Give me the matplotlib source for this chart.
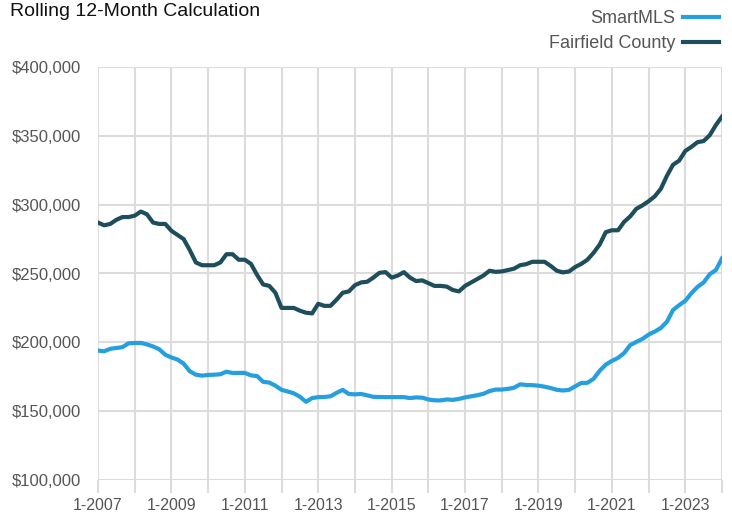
import numpy as np
import matplotlib
matplotlib.use('Agg')
import matplotlib.pyplot as plt
from matplotlib.ticker import FuncFormatter, MultipleLocator

plt.rcParams['font.family'] = ['Liberation Sans', 'DejaVu Sans']

# bimonthly points, Jan 2007 .. Jan 2024
start_year = 2007
n_points = 103
years = start_year + np.arange(n_points) / 6.0
label_years = [2007, 2009, 2011, 2013, 2015, 2017, 2019, 2021, 2023]

smartmls = [194, 193.5, 195.3, 195.9, 196.5, 199.3,
            199.5, 199.6, 198.5, 197, 195, 191,
            189, 187.5, 184.5, 179, 176.5, 175.8,
            176.3, 176.5, 176.8, 178.7, 177.7, 177.8,
            177.8, 176, 175.5, 171.3, 170.8, 168.5,
            165.5, 164.3, 163, 160.5, 156.8, 159.5,
            160.2, 160.3, 160.8, 163.3, 165.5, 162.5,
            162.2, 162.5, 161.5, 160.4, 160.3, 160.2,
            160.2, 160.2, 160.2, 159.5, 160, 159.8,
            158.5, 157.9, 157.8, 158.5, 158.2, 158.9,
            160, 160.8, 161.6, 162.6, 164.6, 165.7,
            165.7, 166.2, 167, 169.5, 169, 168.9,
            168.5, 167.8, 166.8, 165.5, 165, 165.5,
            168, 170.5, 170.6, 173.5, 179.3, 183.8,
            186.5, 188.7, 192.2, 198, 200.3, 202.5,
            205.6, 207.8, 210.4, 215, 223.5, 227,
            230.2, 235.7, 240.3, 243.5, 249.5, 252.5,
            261]

fairfield = [287, 285, 286, 289, 291, 291,
             292, 295, 293, 287, 286, 286,
             281, 278, 275, 267, 258, 256,
             256, 256, 258, 264, 264, 260,
             260, 257, 249, 242, 241, 236,
             225, 225, 225, 223, 221.5, 221,
             228, 226.5, 226.5, 231, 236, 237,
             241.5, 243.5, 244, 247, 250.5, 251,
             247, 248.5, 251, 247, 244.5, 245,
             243, 241, 241, 240.5, 238, 237,
             241, 243.5, 246, 248.5, 252, 251.2,
             251.5, 252.5, 253.5, 256, 256.8, 258.5,
             258.5, 258.5, 255.5, 252, 250.8, 251.5,
             254.7, 257, 260, 265, 271, 280,
             281.4, 281.4, 287.5, 291.5, 297, 299.5,
             302.5, 306, 311.5, 321, 329, 332,
             339, 342, 345.4, 346.2, 350.5, 357.8,
             364]

smartmls = np.array(smartmls) * 1000
fairfield = np.array(fairfield) * 1000

fig = plt.figure(figsize=(7.32, 5.15), dpi=100)
ax = fig.add_axes([98 / 732, 1 - 480 / 515, 624 / 732, 413 / 515])

ax.plot(years, smartmls, color='#259fdd', lw=3, label='SmartMLS', solid_joinstyle='round')
ax.plot(years, fairfield, color='#1e4d5c', lw=3, label='Fairfield County', solid_joinstyle='round')

ax.set_xlim(2007, 2024)
ax.set_ylim(100000, 400000)
ax.set_xticks(label_years)
ax.set_xticklabels(['1-%d' % y for y in label_years])
ax.xaxis.set_minor_locator(MultipleLocator(1))
ax.yaxis.set_major_locator(MultipleLocator(50000))
ax.yaxis.set_major_formatter(FuncFormatter(lambda v, p: '${:,.0f}'.format(v)))

ax.grid(True, which='both', color='#dcdcdc', lw=1.5)
ax.set_axisbelow(True)
for s in ax.spines.values():
    s.set_visible(False)
ax.tick_params(axis='x', which='both', length=9, color='#dcdcdc', width=1.5,
               labelsize=11.5, labelcolor='#555555', pad=4)
ax.tick_params(axis='y', length=0, labelsize=12, labelcolor='#555555', pad=12)

fig.text(10 / 732, 1 - 12 / 515, 'Rolling 12-Month Calculation', fontsize=14,
         color='#111111', va='center', ha='left')

leg = fig.legend(loc='upper right', bbox_to_anchor=(735 / 732, 1 + 6 / 515),
                 frameon=False, markerfirst=False, fontsize=13, handlelength=2.0,
                 handletextpad=0.4, labelspacing=0.45)
for t in leg.get_texts():
    t.set_color('#555555')

fig.savefig('out.png', dpi=100)
